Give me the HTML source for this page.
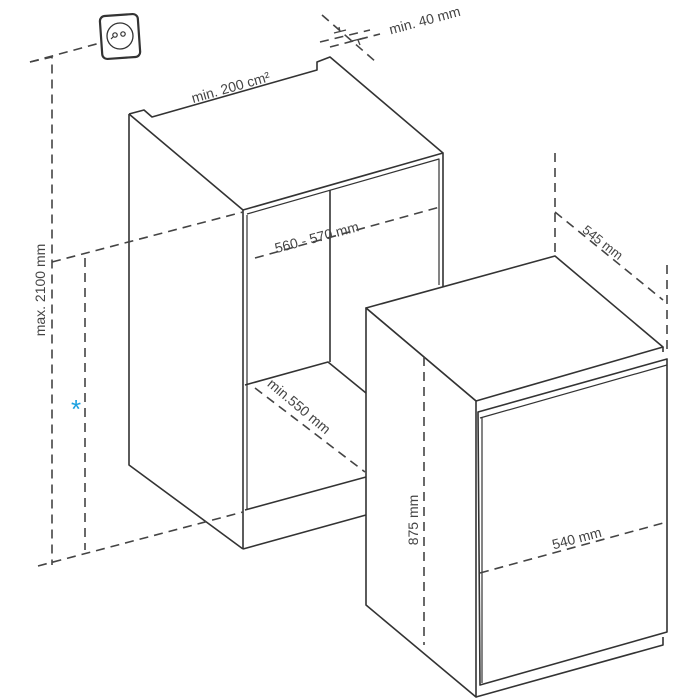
<!DOCTYPE html>
<html><head><meta charset="utf-8"><style>
html,body{margin:0;padding:0;background:#fff}
svg{display:block}
text{font-family:"Liberation Sans",sans-serif;fill:#444}
</style></head><body>
<svg width="700" height="700" viewBox="0 0 700 700" xmlns="http://www.w3.org/2000/svg">
<g fill="none" stroke="#333" stroke-width="1.6" stroke-linejoin="round">
<!-- outlet -->
<rect x="101" y="15" width="38" height="43" rx="5" transform="rotate(-4 120 36)" stroke-width="2.2"/>
<circle cx="120" cy="36" r="13" stroke-width="1.3"/>
<circle cx="115" cy="35" r="2.2" stroke-width="1.2"/>
<circle cx="123" cy="34" r="2.2" stroke-width="1.2"/>
<path d="M113 37 L111 39" stroke-width="1.2"/>

<!-- cabinet -->
<path d="M129 114 L144 110 L152 117 L317 70 L317 62 L330 57 L443 153"/>
<path d="M129 114 L243 210"/>
<path d="M129 114 L129 465 L243 549"/>
<path d="M243 210 L443 153 L443 360"/>
<path d="M243 210 L243 549"/>
<path d="M247 215 L247 510" stroke-width="1.2"/>
<path d="M247 214 L439 159 L439 285" stroke-width="1.2"/>
<path d="M330 190 L330 362"/>
<path d="M245 385 L328 362 L366 393"/>
<path d="M245 510 L366 477"/>
<path d="M243 549 L366 515"/>

<!-- appliance -->
<path d="M366 308 L555 256 L663 347 L476 401 Z" fill="#fff"/>
<path d="M366 308 L366 605 L476 697 L476 401 Z" fill="#fff"/>
<path d="M476 697 L663 645 L663 637"/>
<path d="M663 347 L663 352"/>
<path d="M478 412 L667 359 L667 632 L480 685 Z" fill="#fff"/>
<path d="M482 418 L482 683" stroke-width="1.2"/>
<path d="M480 418 L667 365" stroke-width="1.2"/>
</g>

<g fill="none" stroke="#444" stroke-width="1.6" stroke-dasharray="9 6">
<path d="M30 62 L100 43"/>
<path d="M30 62 L52 57 L52 565"/>
<path d="M52 262 L243 212"/>
<path d="M255 258 L440 207"/>
<path d="M85 258 L85 550"/>
<path d="M38 566 L243 512"/>
<path d="M255 388 L365 472"/>
<path d="M424 357 L424 645"/>
<path d="M480 573 L667 522"/>
<path d="M555 153 L555 256"/>
<path d="M667 265 L667 350"/>
<path d="M555 212 L663 300"/>
<path d="M322 15 L376 62"/>
<path d="M320 42 L370 30"/>
<path d="M330 47 L380 34"/>
</g>
<g stroke="#444" stroke-width="1.3">
<path d="M334 33 L346 30 M340 32 L339 27"/>
<path d="M352 41 L364 38 M358 40 L360 45"/>
</g>

<text x="76" y="418" style="font-size:26px;fill:#1aa0e0" text-anchor="middle">*</text>

<g style="font-size:14px">
<text transform="translate(45 290) rotate(-90)" text-anchor="middle">max. 2100 mm</text>
<text transform="translate(232 92) rotate(-16)" text-anchor="middle">min. 200 cm²</text>
<text transform="translate(426 25) rotate(-15)" text-anchor="middle">min. 40 mm</text>
<text transform="translate(318 242) rotate(-15)" text-anchor="middle">560 - 570 mm</text>
<text transform="translate(296 410) rotate(40)" text-anchor="middle">min.550 mm</text>
<text transform="translate(600 246) rotate(38)" text-anchor="middle" style="font-size:13px">545 mm</text>
<text transform="translate(418 520) rotate(-90)" text-anchor="middle">875 mm</text>
<text transform="translate(578 543) rotate(-15)" text-anchor="middle">540 mm</text>
</g>
</svg>
</body></html>
